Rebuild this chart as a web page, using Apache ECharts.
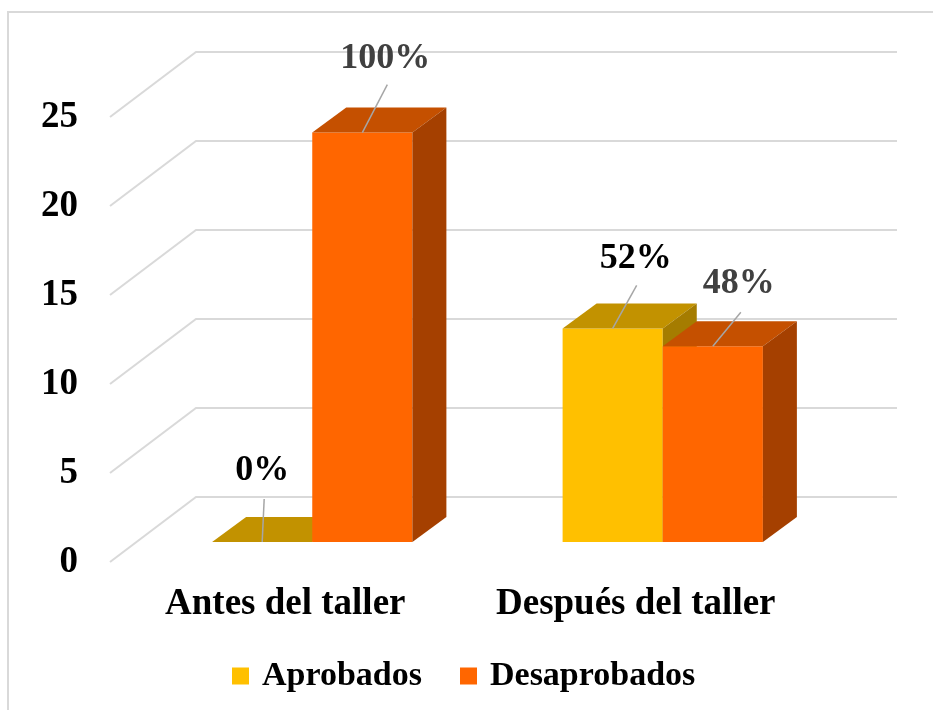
<!DOCTYPE html>
<html>
<head>
<meta charset="utf-8">
<script src="https://cdn.jsdelivr.net/npm/echarts@6/dist/echarts.min.js"></script>
<style>
  html, body { margin: 0; padding: 0; background: #fff; }
  #chart { width: 933px; height: 710px; }
</style>
</head>
<body>
<div id="chart"></div>
<script>
// datos
var categories = ['Antes del taller', 'Después del taller'];
var seriesNames = ['Aprobados', 'Desaprobados'];
var aprobados = [0, 12];
var desaprobados = [23, 11];
var yTicks = [0, 5, 10, 15, 20, 25];

// colores: frente, arriba, lado
var faceColors = [
  ['#FFC000', '#C29200', '#A57C00'],
  ['#FF6600', '#C55000', '#A54000']
];
// color de cada etiqueta (serie x categoria)
var labelColors = [['#000000', '#000000'], ['#404040', '#404040']];
// desplazamiento de etiqueta y linea guia: [dx, dy, lineDx, lineDy]
var labelNudge = [
  [[0, -71, 2, -43], [23, -70, 24, -43]],
  [[23, -74, 25, -48], [26, -62, 28, -34]]
];

var FONT = '"Liberation Serif", "Times New Roman", serif';
var WALL = { x: 86, y: -65 };   // profundidad de la pared del fondo
var OFF = { x: 27, y: -20 };    // donde empieza la barra en profundidad
var DEPTH = { x: 34, y: -25 };  // profundidad de la barra
var BAR_FRAC = 100 / 350;

var myChart = echarts.init(document.getElementById('chart'));

function totals(i) {
  return aprobados[i] + desaprobados[i];
}

function pct(v, i) {
  var t = totals(i);
  return t ? Math.round(v / t * 100) + '%' : '0%';
}

function barItem(params, api) {
  var cat = api.value(0);
  var v = api.value(1);
  var s = params.seriesIndex - 1; // 0 aprobados, 1 desaprobados
  var base = api.coord([cat, 0]);
  var top = api.coord([cat, v]);
  var bw = api.size([1, 0])[0] * BAR_FRAC;
  var x0 = (s === 0 ? base[0] - bw : base[0]) + OFF.x;
  var y0 = base[1] + OFF.y;
  var y1 = top[1] + OFF.y;
  var c = faceColors[s];
  var n = labelNudge[s][cat];
  var cx = x0 + bw / 2;
  return {
    type: 'group',
    children: [
      {
        type: 'rect',
        shape: { x: x0, y: y1, width: bw, height: y0 - y1 },
        style: { fill: c[0] }
      },
      {
        type: 'polygon',
        shape: { points: [[x0, y1], [x0 + bw, y1], [x0 + bw + DEPTH.x, y1 + DEPTH.y], [x0 + DEPTH.x, y1 + DEPTH.y]] },
        style: { fill: c[1] }
      },
      {
        type: 'polygon',
        shape: { points: [[x0 + bw, y1], [x0 + bw + DEPTH.x, y1 + DEPTH.y], [x0 + bw + DEPTH.x, y0 + DEPTH.y], [x0 + bw, y0]] },
        style: { fill: c[2] }
      },
      {
        type: 'line',
        z2: 10,
        shape: { x1: cx, y1: y1, x2: cx + n[2], y2: y1 + n[3] },
        style: { stroke: '#a6a6a6', lineWidth: 1.5 }
      },
      {
        type: 'text',
        z2: 10,
        x: cx + n[0],
        y: y1 + n[1],
        style: {
          text: pct(v, cat),
          fill: labelColors[s][cat],
          font: 'bold 36px ' + FONT,
          align: 'center',
          verticalAlign: 'middle'
        }
      }
    ]
  };
}

function gridItem(params, api) {
  var cs = params.coordSys;
  var p = api.coord([0, api.value(1)]);
  var y = p[1];
  return {
    type: 'polyline',
    shape: { points: [[cs.x, y], [cs.x + WALL.x, y + WALL.y], [cs.x + cs.width + WALL.x, y + WALL.y]] },
    style: { stroke: '#d9d9d9', lineWidth: 2, fill: null }
  };
}

myChart.setOption({
  animation: false,
  backgroundColor: '#fff',
  graphic: [{
    type: 'rect',
    shape: { x: 8, y: 12, width: 1000, height: 1000 },
    style: { fill: null, stroke: '#d9d9d9', lineWidth: 2 }
  }],
  grid: { left: 110, right: 122, top: 117, bottom: 148 },
  legend: {
    data: seriesNames,
    left: 232,
    top: 659,
    padding: 0,
    itemWidth: 17,
    itemHeight: 17,
    itemGap: 38,
    icon: 'rect',
    textStyle: { fontFamily: FONT, fontWeight: 'bold', fontSize: 34, color: '#000', padding: [0, 0, 0, 8] }
  },
  xAxis: {
    type: 'category',
    data: categories,
    axisLine: { show: false },
    axisTick: { show: false },
    axisLabel: { interval: 0, fontFamily: FONT, fontWeight: 'bold', fontSize: 37, color: '#000', margin: 24 }
  },
  yAxis: {
    type: 'value',
    min: 0,
    max: 25,
    interval: 5,
    axisLine: { show: false },
    axisTick: { show: false },
    splitLine: { show: false },
    axisLabel: { fontFamily: FONT, fontWeight: 'bold', fontSize: 37, color: '#000', margin: 32 }
  },
  series: [
    {
      type: 'custom',
      silent: true,
      z: 1,
      renderItem: gridItem,
      data: yTicks.map(function (t) { return [0, t]; })
    },
    {
      name: seriesNames[0],
      type: 'custom',
      z: 2,
      itemStyle: { color: faceColors[0][0] },
      renderItem: barItem,
      encode: { x: 0, y: 1 },
      data: aprobados.map(function (v, i) { return [i, v]; })
    },
    {
      name: seriesNames[1],
      type: 'custom',
      z: 3,
      itemStyle: { color: faceColors[1][0] },
      renderItem: barItem,
      encode: { x: 0, y: 1 },
      data: desaprobados.map(function (v, i) { return [i, v]; })
    }
  ]
});

window.addEventListener('resize', function () {
  myChart.resize();
});
</script>
</body>
</html>
